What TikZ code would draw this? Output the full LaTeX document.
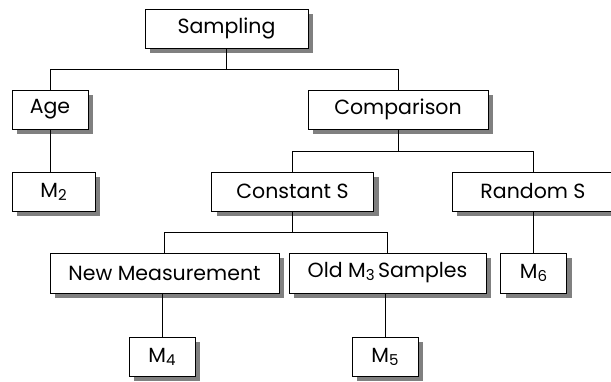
\documentclass[tikz,border=0pt]{standalone}
\usepackage{fontspec}
\setmainfont{Poppins}
\usetikzlibrary{shadows}
\newcommand{\msub}[1]{\raisebox{-0.15em}{\fontsize{15}{15}\selectfont #1}}
\tikzset{
  box/.style={draw=black, line width=0.9pt, fill=white, inner sep=0pt,
    minimum height=39pt, font=\fontsize{20.5}{24}\selectfont,
    drop shadow={shadow xshift=5pt, shadow yshift=-5pt, fill=black!50, opacity=1}},
  conn/.style={draw=black, line width=0.9pt}
}
\begin{document}
\begin{tikzpicture}[x=1pt,y=-1pt]
\useasboundingbox (0,0) rectangle (611,381);
\node[box, minimum width=163pt] (samp) at (226.5,28.5) {Sampling};
\node[box, minimum width=76pt] (age) at (50,109.5) {Age};
\node[box, minimum width=180pt] (comp) at (398,109.5) {Comparison};
\node[box, minimum width=83pt] (m2) at (53.5,191.5) {M\msub{2}};
\node[box, minimum width=162pt] (const) at (292.5,191.5) {Constant S};
\node[box, minimum width=162pt] (rand) at (533,191.5) {Random S};
\node[box, minimum width=229pt, minimum height=40pt] (new) at (164.5,273) {New Measurement};
\node[box, minimum width=197pt, minimum height=40pt] (old) at (387.5,273) {Old M\msub{3}\,Samples};
\node[box, minimum width=66pt, minimum height=40pt] (m6) at (533.5,273) {M\msub{6}};
\node[box, minimum width=66pt] (m4) at (162,356.5) {M\msub{4}};
\node[box, minimum width=66pt] (m5) at (385,356.5) {M\msub{5}};
\coordinate (j1) at (226.5,69);
\coordinate (j2) at (398,151);
\coordinate (j3) at (292.5,232.5);
\draw[conn] (samp.south) -- (j1);
\draw[conn] (j1) -| (age.north);
\draw[conn] (j1) -| (comp.north);
\draw[conn] (comp.south) -- (j2);
\draw[conn] (j2) -| (const.north);
\draw[conn] (j2) -| (rand.north);
\draw[conn] (const.south) -- (j3);
\draw[conn] (j3) -| (new.north);
\draw[conn] (j3) -| (old.north);
\draw[conn] (age.south) -- (age.south |- m2.north);
\draw[conn] (rand.south) -- (rand.south |- m6.north);
\draw[conn] (new.south -| m4.north) -- (m4.north);
\draw[conn] (old.south -| m5.north) -- (m5.north);
\end{tikzpicture}
\end{document}
